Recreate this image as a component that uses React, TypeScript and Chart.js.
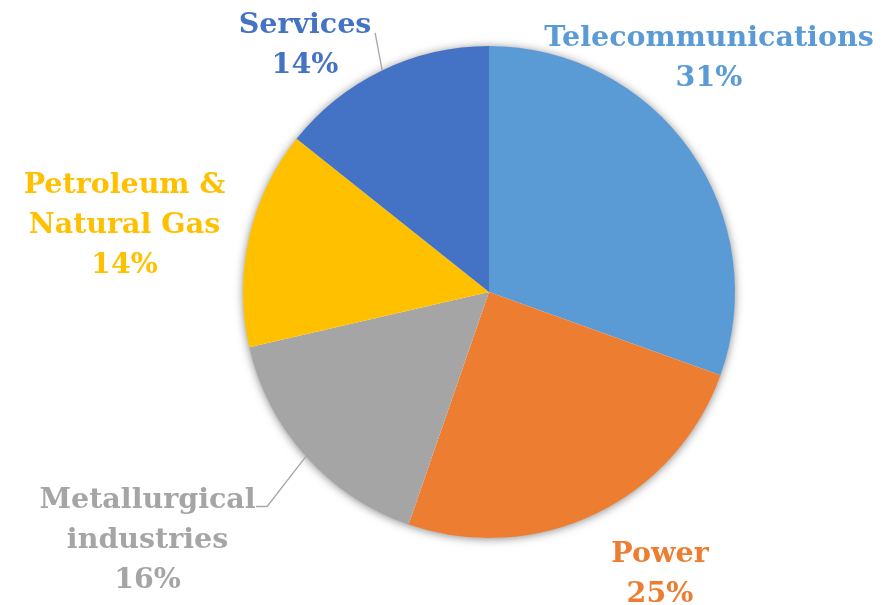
import React, { useEffect, useRef } from "react";
import { Chart, registerables } from "chart.js";

Chart.register(...registerables);

const categories = [
  "Telecommunications",
  "Power",
  "Metallurgical industries",
  "Petroleum & Natural Gas",
  "Services",
];
const shares = [30.5, 24.8, 16.1, 14.3, 14.3];
const colors = ["#5B9BD5", "#ED7D31", "#A5A5A5", "#FFC000", "#4472C4"];

// label text lines (category split into lines), percentage computed from data
const labelLines = [
  ["Telecommunications"],
  ["Power"],
  ["Metallurgical", "industries"],
  ["Petroleum &", "Natural Gas"],
  ["Services"],
];
// label anchor (center x, first baseline) relative to pie center, in radius units
const labelAnchors = [
  [0.894, -1.0],
  [0.695, 1.098],
  [-1.388, 0.878],
  [-1.482, -0.402],
  [-0.748, -1.053],
];
// leader lines: [startX, startY, elbowDx] in radius units relative to center (null = none)
const leaders: (number[] | null)[] = [
  null,
  null,
  [-0.947, 0.872, 0.045],
  null,
  [-0.463, -1.053, 0],
];

const FONT = "bold 28.5px 'DejaVu Serif'";
const LINE_H = 40;

const labelPlugin = {
  id: "pieLabels",
  beforeDatasetsDraw(chart: any) {
    const meta = chart.getDatasetMeta(0);
    const a = meta.data[0];
    if (!a) return;
    const ctx = chart.ctx;
    ctx.save();
    ctx.shadowColor = "rgba(0,0,0,0.5)";
    ctx.shadowBlur = 10;
    ctx.shadowOffsetY = 1;
    ctx.fillStyle = "#ffffff";
    ctx.beginPath();
    ctx.arc(a.x, a.y, a.outerRadius - 0.5, 0, Math.PI * 2);
    ctx.fill();
    ctx.restore();
  },
  afterDatasetsDraw(chart: any) {
    const meta = chart.getDatasetMeta(0);
    const ctx = chart.ctx;
    const data = chart.data.datasets[0].data as number[];
    const total = data.reduce((s, v) => s + v, 0);
    ctx.save();
    meta.data.forEach((arc: any, i: number) => {
      const cx = arc.x;
      const cy = arc.y;
      const R = arc.outerRadius;
      const mid = (arc.startAngle + arc.endAngle) / 2;
      const ld = leaders[i];
      if (ld) {
        const sx = cx + ld[0] * R;
        const sy = cy + ld[1] * R;
        const ex = cx + Math.cos(mid) * R;
        const ey = cy + Math.sin(mid) * R;
        ctx.strokeStyle = "#A6A6A6";
        ctx.lineWidth = 1.3;
        ctx.beginPath();
        ctx.moveTo(sx, sy);
        ctx.lineTo(sx + ld[2] * R, sy);
        ctx.lineTo(ex, ey);
        ctx.stroke();
      }
      const lines = [...labelLines[i], Math.round((data[i] / total) * 100) + "%"];
      const x = cx + labelAnchors[i][0] * R;
      const y0 = cy + labelAnchors[i][1] * R;
      ctx.font = FONT;
      ctx.fillStyle = colors[i];
      ctx.textAlign = "center";
      ctx.textBaseline = "alphabetic";
      lines.forEach((t, k) => ctx.fillText(t, x, y0 + k * LINE_H));
    });
    ctx.restore();
  },
};

export default function App() {
  const ref = useRef<HTMLCanvasElement>(null);
  useEffect(() => {
    if (!ref.current) return;
    const chart = new Chart(ref.current, {
      type: "pie",
      data: {
        labels: categories,
        datasets: [
          {
            data: shares,
            backgroundColor: colors,
            borderWidth: 0,
          },
        ],
      },
      options: {
        responsive: false,
        animation: false,
        layout: { padding: { left: 243, right: 157, top: 46, bottom: 67 } },
        plugins: { legend: { display: false }, tooltip: { enabled: false } },
      },
      plugins: [labelPlugin],
    });
    return () => chart.destroy();
  }, []);
  return (
    <div style={{ position: "absolute", left: 0, top: 0, width: 892, height: 605, background: "#fff" }}>
      <canvas ref={ref} width={892} height={605} />
    </div>
  );
}
